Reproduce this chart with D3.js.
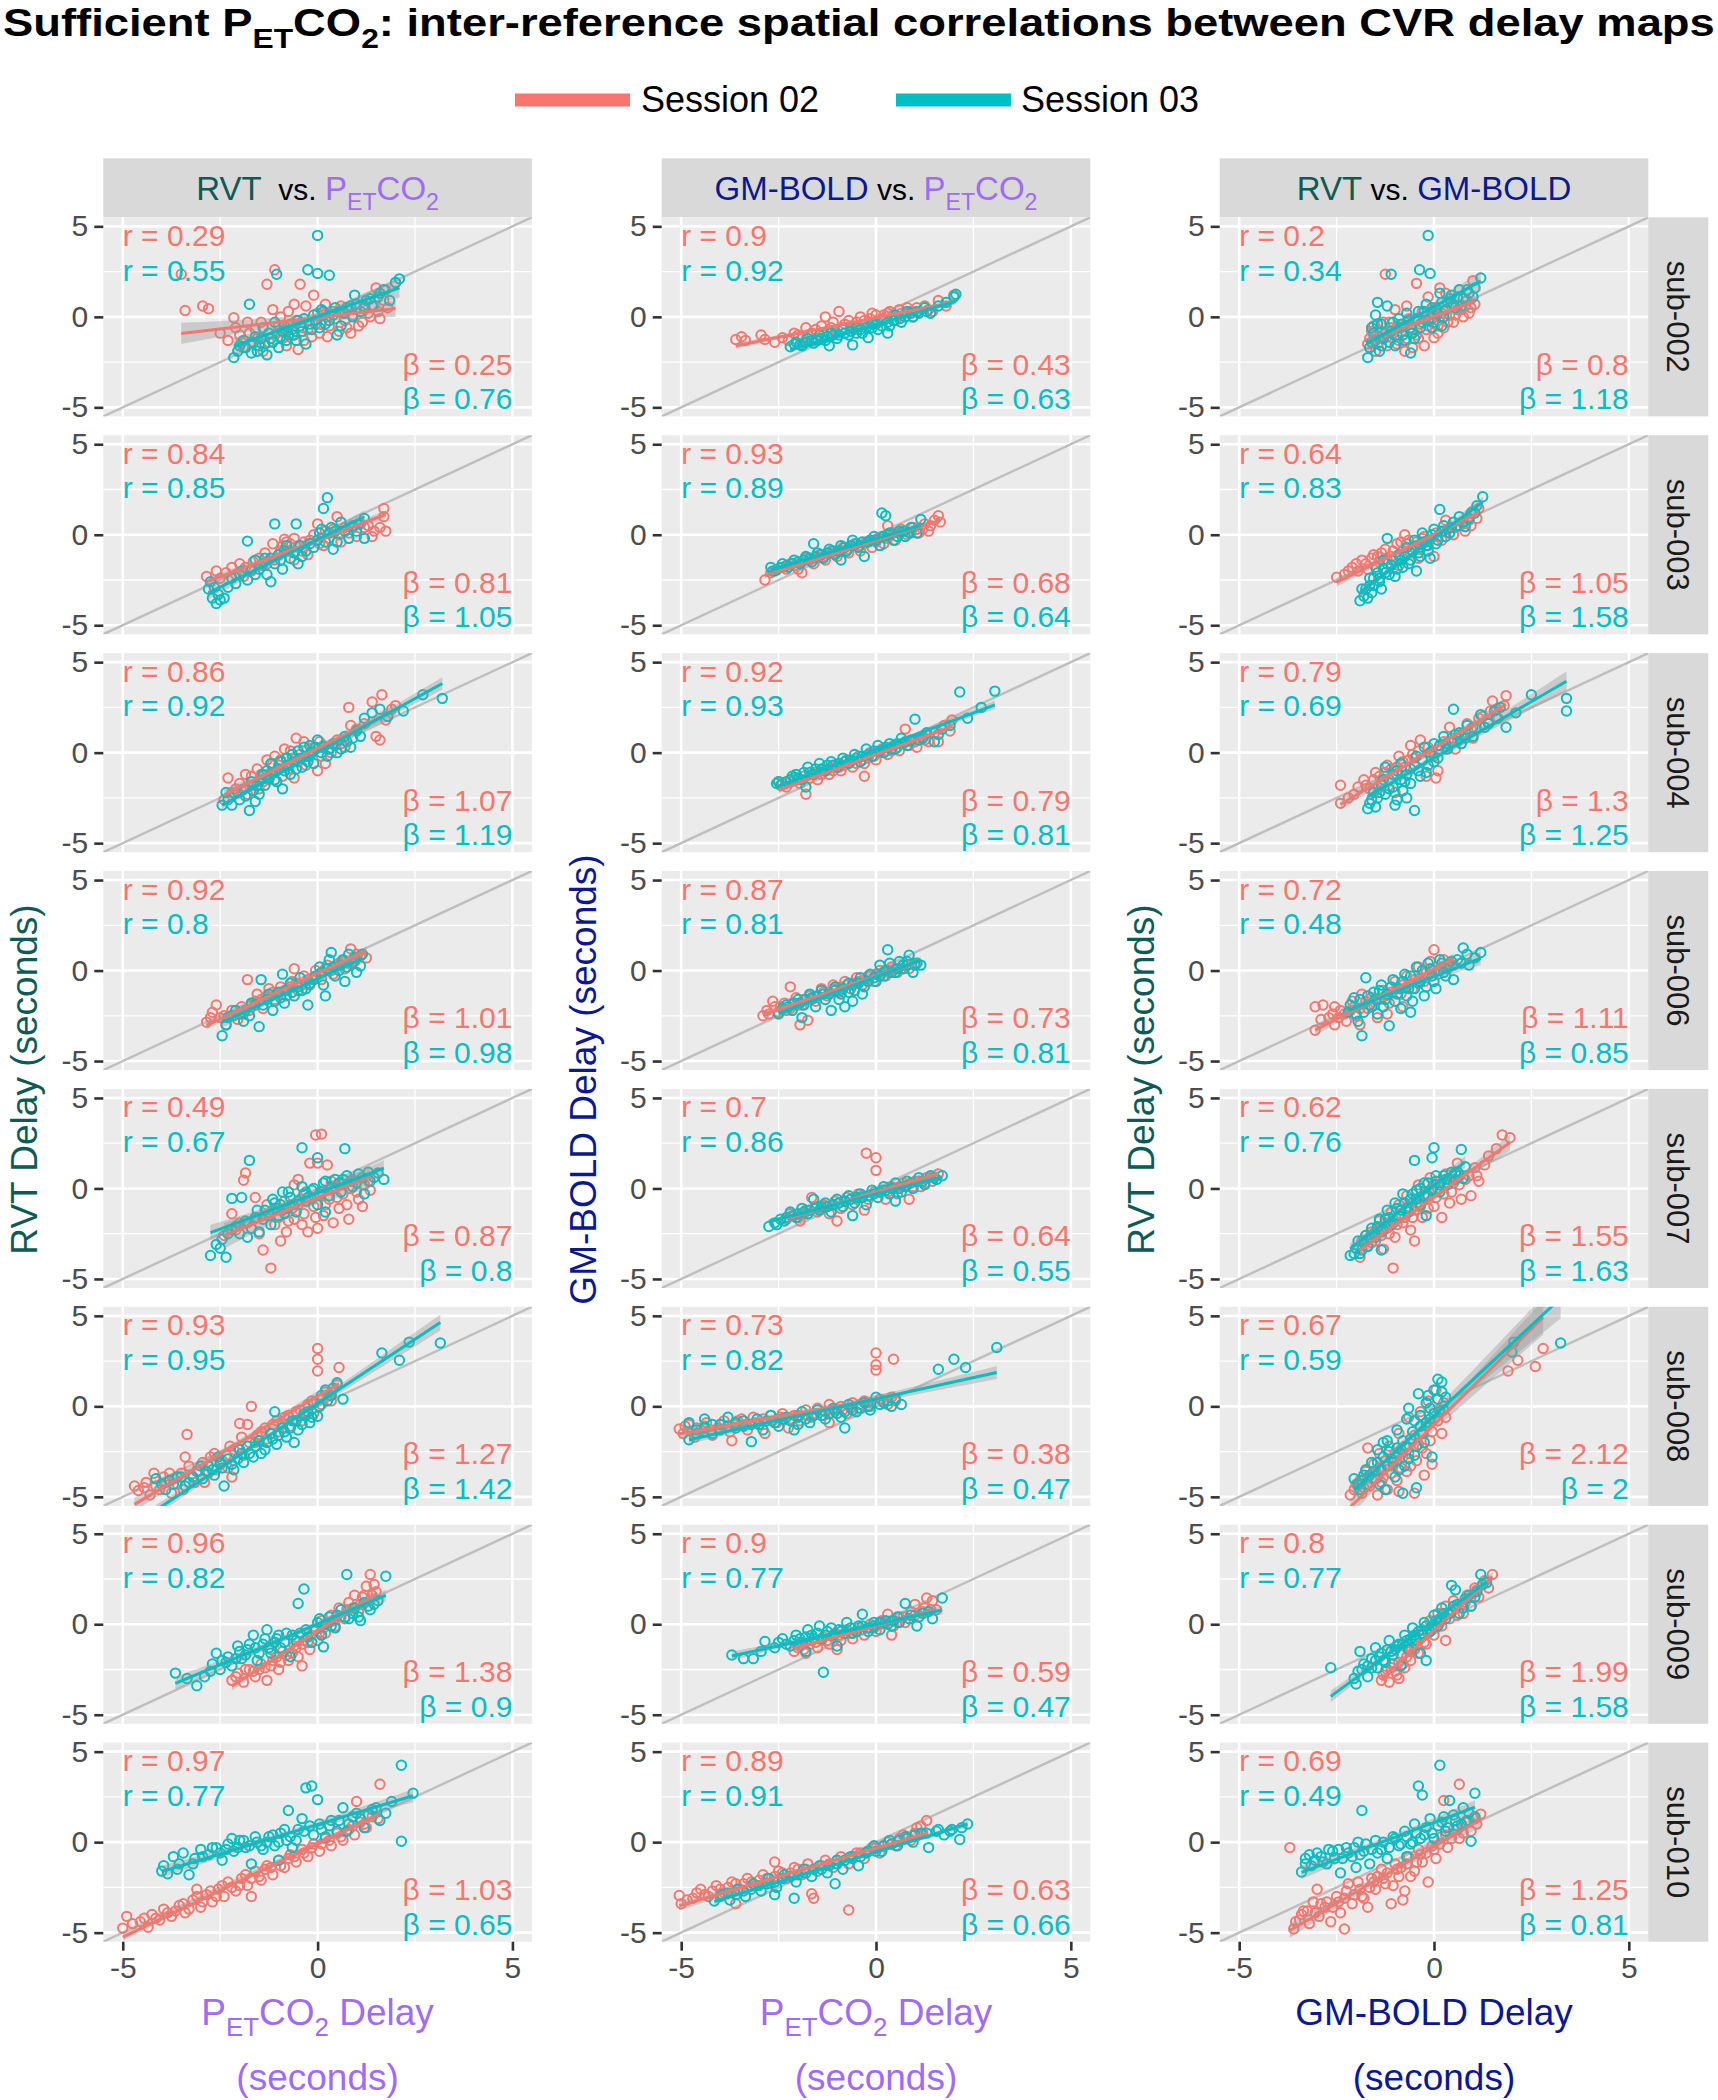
<!DOCTYPE html>
<html><head><meta charset="utf-8">
<script src="https://cdn.jsdelivr.net/npm/d3@7"></script>
<style>
body{margin:0;background:#fff}
svg text{font-family:"Liberation Sans",Arial,Helvetica,sans-serif;white-space:pre}
</style>
</head><body>
<svg id="c" width="1718" height="2100"></svg>
<script>
// ---------------- DATA ----------------
const subjects=["sub-002","sub-003","sub-004","sub-006","sub-007","sub-008","sub-009","sub-010"];
const sessions=["Session 02","Session 03"];
const sessionColors=["#F8766D","#00BFC4"];
const tickValues=[-5,0,5];
const minorValues=[-2.5,2.5];
const axisDomain=[-5.5,5.5];

const r_RVTvsPET_S02=[0.29,0.84,0.86,0.92,0.49,0.93,0.96,0.97];
const r_RVTvsPET_S03=[0.55,0.85,0.92,0.8,0.67,0.95,0.82,0.77];
const b_RVTvsPET_S02=[0.25,0.81,1.07,1.01,0.87,1.27,1.38,1.03];
const b_RVTvsPET_S03=[0.76,1.05,1.19,0.98,0.8,1.42,0.9,0.65];
const r_GMvsPET_S02=[0.9,0.93,0.92,0.87,0.7,0.73,0.9,0.89];
const r_GMvsPET_S03=[0.92,0.89,0.93,0.81,0.86,0.82,0.77,0.91];
const b_GMvsPET_S02=[0.43,0.68,0.79,0.73,0.64,0.38,0.59,0.63];
const b_GMvsPET_S03=[0.63,0.64,0.81,0.81,0.55,0.47,0.47,0.66];
const r_RVTvsGM_S02=[0.2,0.64,0.79,0.72,0.62,0.67,0.8,0.69];
const r_RVTvsGM_S03=[0.34,0.83,0.69,0.48,0.76,0.59,0.77,0.49];
const b_RVTvsGM_S02=[0.8,1.05,1.3,1.11,1.55,2.12,1.99,1.25];
const b_RVTvsGM_S03=[1.18,1.58,1.25,0.85,1.63,2,1.58,0.81];

// points [x, y] per subject: spread points
const pts_RVTvsPET_S02=[
[[-3.5,2.35],[-3.4,0.35],[-2.95,0.6],[-2.8,0.45],[-2.15,-0.05],[-2.3,-1.3],[-2.0,-1.0],[-1.9,-1.7],[-1.7,-1.4],[-1.6,-0.7],[-1.4,-1.9],[-1.3,1.8],[-1.1,2.6],[-1.15,0.4],[-1.0,-0.5],[-0.9,-1.2],[-0.75,0.3],[-0.6,0.7],[-0.5,-1.8],[-0.45,1.8],[-0.4,-0.6],[-0.3,0.6],[-0.15,-1.1],[-0.1,1.2],[0.0,0.2],[0.1,-0.4],[0.25,-1.1],[0.4,0.3],[0.55,-0.8],[0.7,-0.2],[0.85,-0.9],[1.0,0.5],[1.15,-0.3],[1.3,0.2],[1.45,0.6],[1.5,1.6],[1.6,-0.1],[1.75,1.5],[1.8,0.5],[2.0,1.9],[-2.5,-0.9],[-1.8,-0.3],[-0.8,-1.6],[0.2,0.7],[0.6,0.6]],
[[-2.85,-2.3],[-2.5,-2.4],[-2.2,-1.8],[-2.0,-1.6],[-1.9,-2.3],[-1.5,-1.3],[-1.3,-1.6],[-1.0,-1.1],[-0.9,-0.6],[-0.85,-0.25],[-0.7,-0.5],[-0.6,-1.4],[-0.4,-0.9],[-0.2,-0.3],[0.0,0.6],[0.3,-0.2],[0.5,1.0],[0.6,-0.4],[0.8,0.1],[1.0,-0.1],[1.2,0.4],[1.4,-0.1],[1.6,0.4],[1.75,0.2],[1.7,1.0],[1.7,1.45],[1.45,0.2],[-1.7,-2.0],[-1.15,-0.5],[0.15,-0.6]],
[[-2.4,-2.6],[-2.3,-1.4],[-2.1,-2.0],[-2.0,-1.7],[-1.8,-2.3],[-1.7,-1.3],[-1.55,-0.9],[-1.4,-1.6],[-1.3,-0.4],[-1.2,-1.1],[-1.1,-0.2],[-1.0,-0.7],[-0.9,-1.3],[-0.8,-0.3],[-0.7,0.1],[-0.55,0.8],[-0.5,-0.5],[-0.35,0.6],[-0.2,-0.2],[-0.1,0.3],[0.0,-1.0],[0.05,0.6],[0.2,-0.6],[0.3,0.2],[0.45,0.4],[0.6,0.5],[0.8,2.5],[0.85,1.5],[1.0,1.3],[1.2,1.6],[1.4,2.8],[1.5,0.9],[1.6,0.7],[1.65,3.2],[1.75,1.8],[1.9,2.4],[2.0,2.6],[-0.6,-1.4],[-1.5,-2.0]],
[[-2.85,-2.85],[-2.7,-2.3],[-2.5,-2.6],[-2.35,-3.0],[-2.2,-2.2],[-2.05,-2.7],[-1.9,-2.4],[-1.8,-0.5],[-1.7,-1.9],[-1.55,-1.3],[-1.4,-2.1],[-1.25,-1.0],[-1.1,-1.6],[-0.95,-0.9],[-0.8,-1.4],[-0.65,-0.6],[-0.5,-1.1],[-0.35,-0.3],[-0.2,-0.8],[-0.05,0.0],[0.1,-0.5],[0.25,0.3],[0.4,-0.2],[0.55,0.4],[0.7,0.1],[0.85,1.2],[0.95,0.5],[1.1,0.8],[1.25,0.7],[-0.6,0.1],[-2.6,-1.9]],
[[-2.4,-2.6],[-2.2,-1.4],[-2.0,-1.9],[-1.9,0.45],[-1.85,0.85],[-1.7,-2.2],[-1.55,-1.6],[-1.4,-3.4],[-1.3,-0.9],[-1.2,-4.4],[-1.1,-2.0],[-0.95,-2.9],[-0.9,-1.2],[-0.8,-2.4],[-0.7,-0.5],[-0.6,-1.7],[-0.5,-0.9],[-0.4,-2.0],[-0.3,-0.2],[-0.25,-2.4],[-0.2,1.4],[-0.1,-1.0],[-0.05,2.95],[0.0,1.4],[0.05,-0.4],[0.1,3.0],[0.15,-1.5],[0.25,1.3],[0.3,-0.6],[0.45,0.1],[0.55,-1.1],[0.65,-0.3],[0.8,-1.7],[0.9,0.5],[1.05,-0.6],[1.2,0.2],[1.35,-0.1],[-1.6,-0.5],[-0.6,0.2],[0.4,-1.9]],
[[-4.7,-4.4],[-4.6,-4.65],[-4.45,-4.5],[-4.3,-4.9],[-4.2,-3.7],[-4.05,-4.6],[-3.9,-4.2],[-3.75,-4.8],[-3.6,-4.3],[-3.45,-4.6],[-3.35,-1.55],[-3.4,-2.8],[-3.2,-3.9],[-3.05,-3.6],[-2.9,-4.2],[-2.75,-2.8],[-2.6,-3.5],[-2.45,-3.0],[-2.3,-3.4],[-2.15,-2.4],[-2.0,-0.95],[-1.9,-2.7],[-1.8,-1.0],[-1.7,0.0],[-1.6,-2.0],[-1.45,-1.4],[-1.3,-1.8],[-1.15,-1.0],[-1.0,-1.4],[-0.85,-0.6],[-0.7,-1.1],[-0.55,-0.3],[-0.4,-0.8],[-0.25,0.1],[-0.1,-0.4],[0.0,3.2],[0.0,2.6],[0.0,1.95],[0.05,0.4],[0.2,0.8],[0.35,0.3],[0.5,1.2],[0.55,2.15],[-3.8,-3.7],[-2.2,-3.9]],
[[-2.2,-3.1],[-2.05,-2.7],[-1.9,-3.2],[-1.75,-2.5],[-1.6,-2.9],[-1.45,-2.2],[-1.3,-3.1],[-1.15,-2.0],[-1.0,-2.5],[-0.9,-1.5],[-0.75,-2.0],[-0.6,-1.2],[-0.5,-1.8],[-0.35,-0.9],[-0.2,-1.4],[-0.1,-0.3],[0.0,-0.9],[0.1,0.2],[0.2,-0.5],[0.35,0.5],[0.45,-0.1],[0.55,0.9],[0.7,0.3],[0.8,1.2],[0.95,1.6],[1.05,0.7],[1.15,1.5],[1.25,2.1],[1.35,2.75],[1.45,2.2],[1.5,1.8],[-1.2,-1.4],[-0.4,-2.3]],
[[-5.0,-4.75],[-4.9,-4.1],[-4.55,-4.4],[-4.35,-4.7],[-4.15,-4.2],[-3.95,-3.7],[-3.75,-4.1],[-3.55,-3.5],[-3.4,-3.9],[-3.2,-3.2],[-3.0,-3.6],[-2.85,-2.9],[-2.7,-3.3],[-2.55,-2.6],[-2.4,-3.0],[-2.3,-2.2],[-2.1,-2.7],[-1.95,-2.0],[-1.8,-2.4],[-1.6,-1.6],[-1.45,-2.1],[-1.3,-1.3],[-1.15,-1.8],[-1.0,-1.0],[-0.85,-1.4],[-0.7,-0.7],[-0.55,-1.1],[-0.4,-0.4],[-0.25,-0.8],[-0.1,-0.1],[0.05,-0.5],[0.2,0.2],[0.35,-0.2],[0.5,0.5],[0.65,0.1],[0.8,0.7],[0.95,0.4],[1.0,2.25],[1.1,1.1],[1.25,0.8],[1.4,1.4],[1.6,3.2],[1.55,1.3],[-3.1,-2.6],[-1.7,-3.0]]
];
// dense core points read from the central clusters
const core_RVTvsPET_S02=[
[[-2.1,-0.6],[-1.95,-1.4],[-1.75,-0.9],[-1.55,-1.2],[-1.45,-0.3],[-1.25,-1.4],[-1.05,-0.9],[-0.95,0.0],[-0.85,-0.7],[-0.65,-1.0],[-0.55,-0.2],[-0.35,-1.3],[-0.25,-0.7],[-0.05,-0.4],[0.05,-0.9],[0.15,0.1],[0.3,-0.5],[0.45,-0.1],[0.65,0.2],[0.75,-0.6],[0.9,0.1],[1.05,-0.5],[1.2,0.6],[1.35,0.0],[1.55,0.3],[1.7,0.9]],
[[-2.6,-2.0],[-2.35,-2.1],[-2.1,-2.2],[-1.85,-1.8],[-1.65,-1.5],[-1.45,-1.7],[-1.35,-1.0],[-1.1,-1.4],[-0.95,-0.9],[-0.75,-0.9],[-0.5,-0.6],[-0.35,-0.4],[-0.25,-1.1],[-0.1,0.0],[0.05,-0.5],[0.2,0.2],[0.4,0.3],[0.55,0.0],[0.7,0.4],[0.9,0.4],[1.1,0.6],[1.3,0.5],[-0.8,-0.4],[-0.6,-0.2]],
[[-2.2,-2.2],[-1.95,-2.1],[-1.65,-1.8],[-1.45,-1.2],[-1.25,-1.5],[-1.05,-1.0],[-0.95,-0.4],[-0.75,-0.9],[-0.65,-0.3],[-0.45,-0.1],[-0.3,-0.7],[-0.15,0.1],[0.1,-0.2],[0.15,0.4],[0.35,0.0],[0.5,0.7],[0.7,0.3],[-1.85,-1.2],[-1.15,-0.6],[-0.85,0.2]],
[[-2.75,-2.6],[-2.4,-2.5],[-2.15,-2.5],[-1.95,-2.0],[-1.75,-2.2],[-1.6,-1.7],[-1.45,-1.6],[-1.3,-1.4],[-1.15,-1.2],[-1.0,-1.3],[-0.85,-1.1],[-0.7,-0.9],[-0.55,-0.7],[-0.4,-0.8],[-0.25,-0.5],[-0.1,-0.4],[0.05,-0.2],[0.2,0.1],[0.35,0.0],[0.5,0.3],[0.65,0.5],[0.8,0.4],[1.0,0.9]],
[[-2.1,-2.3],[-1.8,-1.9],[-1.5,-2.5],[-1.35,-1.5],[-1.15,-1.2],[-1.0,-1.6],[-0.85,-0.7],[-0.75,-1.8],[-0.65,-1.1],[-0.45,-0.6],[-0.35,-1.4],[-0.15,-0.6],[-0.05,-1.6],[0.1,-0.2],[0.2,-0.9],[0.35,0.4],[0.5,-0.5],[0.6,0.3],[0.75,-0.9],[0.85,0.0],[1.0,-0.2],[1.15,-1.0],[1.3,0.4],[-0.5,0.5],[0.0,-2.2]],
[[-4.4,-4.2],[-4.15,-4.4],[-3.95,-3.9],[-3.7,-4.0],[-3.5,-3.7],[-3.3,-3.3],[-3.15,-4.2],[-2.95,-3.1],[-2.8,-3.7],[-2.65,-2.6],[-2.5,-3.2],[-2.35,-2.7],[-2.25,-2.2],[-2.05,-2.3],[-1.95,-1.7],[-1.75,-2.0],[-1.55,-1.6],[-1.35,-1.2],[-1.2,-1.5],[-1.05,-0.8],[-0.9,-1.0],[-0.75,-0.5],[-0.6,-0.8],[-0.45,-0.2],[-0.3,-0.5],[-0.15,0.3],[0.1,0.1],[0.3,0.6]],
[[-2.1,-2.9],[-1.85,-2.5],[-1.65,-2.6],[-1.5,-2.5],[-1.35,-2.4],[-1.2,-2.3],[-1.05,-1.8],[-0.95,-2.1],[-0.8,-1.7],[-0.65,-1.6],[-0.55,-1.3],[-0.4,-1.1],[-0.25,-1.0],[-0.15,-0.6],[0.05,-0.5],[0.15,-0.2],[0.3,0.1],[0.4,0.2],[0.6,0.4],[0.75,0.8],[0.9,0.9],[1.1,1.1],[1.2,1.6],[1.4,1.6]],
[[-4.75,-4.5],[-4.45,-4.2],[-4.25,-4.0],[-4.05,-4.3],[-3.85,-3.9],[-3.65,-3.8],[-3.45,-3.4],[-3.3,-3.7],[-3.1,-3.0],[-2.95,-3.3],[-2.75,-2.7],[-2.6,-3.0],[-2.45,-2.4],[-2.2,-2.5],[-2.0,-2.4],[-1.85,-1.8],[-1.7,-2.0],[-1.5,-1.9],[-1.35,-1.5],[-1.2,-1.4],[-0.95,-1.3],[-0.75,-0.9],[-0.6,-0.8],[-0.35,-0.6],[-0.15,-0.3],[0.1,-0.1],[0.3,0.1],[0.6,0.3],[0.9,0.9],[1.2,1.0]]
];
const pts_RVTvsPET_S03=[
[[-2.15,-2.25],[-2.0,-1.6],[-1.9,-1.3],[-1.75,0.7],[-1.7,-2.0],[-1.6,-1.1],[-1.5,-1.6],[-1.4,-0.6],[-1.3,-2.1],[-1.2,-1.2],[-1.05,2.35],[-1.0,-1.7],[-0.9,-0.8],[-0.8,-1.3],[-0.7,-0.4],[-0.6,-1.0],[-0.5,-0.2],[-0.4,-0.8],[-0.25,2.6],[-0.2,-0.4],[-0.1,0.1],[0.0,4.5],[0.0,2.4],[0.05,-0.6],[0.15,0.3],[0.3,2.3],[0.3,-0.2],[0.45,0.5],[0.6,-0.5],[0.7,0.2],[0.85,0.6],[0.95,1.2],[1.1,0.3],[1.25,0.9],[1.4,0.6],[1.55,1.1],[1.7,1.5],[1.85,0.9],[2.0,1.9],[2.1,2.1],[-1.1,-0.3],[0.5,-1.0],[-0.3,-1.5]],
[[-2.8,-3.0],[-2.7,-3.5],[-2.6,-3.8],[-2.5,-3.6],[-2.4,-3.5],[-2.75,-2.6],[-2.3,-2.9],[-2.0,-2.2],[-1.8,-2.5],[-1.5,-1.9],[-1.8,-0.35],[-1.2,-1.3],[-1.2,-2.6],[-1.3,-2.2],[-1.0,-1.1],[-0.8,-0.6],[-0.6,-1.0],[-1.1,0.6],[-0.5,-1.6],[-0.3,-0.9],[-0.55,0.6],[0.0,-0.3],[0.1,0.3],[0.15,1.45],[0.25,2.05],[0.3,0.1],[0.5,-0.4],[0.6,0.7],[0.8,-0.2],[1.0,0.2],[1.2,0.9],[1.2,-0.2],[0.4,-0.8],[-1.6,-1.4],[-0.9,-1.9]],
[[-2.45,-2.9],[-2.3,-2.6],[-2.0,-2.6],[-1.9,-2.0],[-1.75,-3.2],[-1.7,-1.6],[-1.6,-2.7],[-1.5,-2.3],[-1.4,-1.2],[-1.35,-1.8],[-1.2,-0.6],[-1.1,-1.5],[-1.0,-0.9],[-0.9,-2.0],[-0.8,-0.3],[-0.7,-1.2],[-0.6,-0.5],[-0.5,0.1],[-0.4,-0.8],[-0.3,-0.2],[-0.2,0.4],[-0.1,-0.6],[0.0,0.7],[0.1,0.0],[0.25,-0.2],[0.4,0.5],[0.6,0.2],[0.75,0.6],[0.9,0.8],[1.0,1.2],[1.1,0.9],[1.2,1.9],[1.4,2.2],[1.6,2.4],[1.8,2.0],[2.2,2.3],[2.7,3.2],[3.2,3.0],[-1.3,-1.0]],
[[-2.45,-3.6],[-2.3,-2.6],[-2.1,-2.2],[-1.9,-2.8],[-1.7,-1.8],[-1.5,-3.1],[-1.45,-0.5],[-1.3,-1.6],[-1.15,-2.2],[-1.0,-1.2],[-0.85,-1.8],[-0.7,-0.7],[-0.6,-1.4],[-0.45,-0.4],[-0.3,-1.0],[-0.25,-1.9],[-0.1,-0.5],[0.05,0.2],[0.15,-0.8],[0.3,0.6],[0.35,1.0],[0.45,-0.3],[0.6,0.3],[0.7,-0.6],[0.8,0.9],[0.9,0.4],[1.0,-0.1],[1.1,0.25],[1.15,0.9],[-0.9,-0.2],[0.2,-1.4]],
[[-2.75,-3.7],[-2.6,-3.1],[-2.5,-3.3],[-2.35,-3.8],[-2.2,-0.55],[-2.1,-2.1],[-1.95,-0.5],[-1.8,-2.7],[-1.75,1.55],[-1.6,-1.6],[-1.5,-2.4],[-1.35,-1.2],[-1.2,-2.0],[-1.1,-0.8],[-1.0,-1.5],[-0.9,-0.2],[-0.8,-1.1],[-0.7,-0.5],[-0.55,-1.3],[-0.4,2.25],[-0.4,0.1],[-0.3,-0.7],[-0.15,-0.1],[0.0,1.7],[0.0,-0.9],[0.15,0.3],[0.3,-0.4],[0.45,0.5],[0.6,-0.2],[0.7,2.2],[0.75,0.7],[0.9,0.1],[1.05,0.8],[1.2,-0.3],[1.3,0.9],[1.45,0.6],[1.55,0.85],[1.7,0.5],[-2.3,-2.5],[0.2,-1.3]],
[[-4.15,-4.0],[-3.9,-4.6],[-3.7,-4.3],[-3.5,-3.9],[-3.3,-4.2],[-3.1,-3.6],[-2.95,-4.0],[-2.8,-3.3],[-2.65,-3.8],[-2.5,-3.1],[-2.4,-4.4],[-2.3,-2.9],[-2.15,-3.5],[-2.0,-2.4],[-1.9,-3.1],[-1.8,-2.2],[-1.65,-2.8],[-1.5,-1.9],[-1.35,-2.4],[-1.2,-1.5],[-1.05,-2.1],[-0.9,-1.2],[-0.8,-1.7],[-0.65,-0.8],[-0.5,-1.3],[-0.35,-0.4],[-0.2,-0.9],[-0.1,0.2],[0.0,-0.55],[0.1,0.6],[0.25,0.3],[0.4,1.0],[0.5,1.3],[0.65,0.4],[1.65,2.95],[2.1,2.55],[2.35,3.55],[3.15,3.5],[-1.1,-0.3],[-0.6,-2.0]],
[[-3.65,-2.7],[-3.35,-3.0],[-3.1,-3.4],[-2.9,-2.9],[-2.6,-1.6],[-2.5,-2.5],[-2.3,-1.8],[-2.2,-2.3],[-2.05,-1.2],[-1.95,-1.9],[-1.8,-1.4],[-1.65,-0.6],[-1.55,-2.0],[-1.4,-1.1],[-1.3,-0.3],[-1.2,-1.6],[-1.05,-0.8],[-0.95,-1.3],[-0.8,-0.5],[-0.7,-1.8],[-0.55,-0.9],[-0.5,1.15],[-0.35,1.95],[-0.3,-0.3],[-0.15,-1.0],[0.0,0.1],[0.1,-0.6],[0.15,-1.25],[0.3,0.4],[0.45,-0.2],[0.6,0.8],[0.75,2.75],[0.8,0.3],[0.95,0.9],[1.1,0.2],[1.2,1.2],[1.35,0.8],[1.55,1.3],[1.75,2.65],[-2.7,-2.2]],
[[-4.0,-1.6],[-3.85,-1.75],[-3.7,-0.8],[-3.55,-1.2],[-3.3,-1.8],[-3.15,-0.9],[-3.0,-0.4],[-2.8,-0.7],[-2.6,-0.3],[-2.45,-1.0],[-2.3,-0.1],[-2.15,-0.5],[-2.0,0.1],[-1.85,-0.3],[-1.7,-1.2],[-1.55,0.0],[-1.4,-0.4],[-1.25,0.3],[-1.1,-0.2],[-0.95,0.5],[-0.8,0.1],[-0.75,1.75],[-0.65,-0.3],[-0.5,0.7],[-0.4,1.3],[-0.3,3.0],[-0.15,3.1],[-0.1,0.4],[0.0,2.35],[0.05,1.0],[0.2,0.3],[0.35,1.2],[0.5,0.6],[0.65,1.9],[0.8,1.0],[1.0,1.6],[1.2,0.8],[1.4,1.8],[1.6,1.2],[1.9,2.25],[2.15,4.25],[2.15,0.05],[2.45,2.7],[-1.0,-1.0]]
];
const core_RVTvsPET_S03=[
[[-2.05,-1.9],[-1.85,-1.7],[-1.65,-1.4],[-1.55,-1.9],[-1.45,-1.2],[-1.35,-1.5],[-1.25,-0.9],[-1.15,-1.4],[-0.95,-1.1],[-0.85,-0.5],[-0.75,-1.0],[-0.65,-0.7],[-0.55,-1.3],[-0.45,-0.5],[-0.35,-0.1],[-0.15,-0.7],[-0.05,-0.2],[0.1,0.4],[0.2,-0.4],[0.4,0.1],[0.55,0.3],[0.75,0.5],[0.9,0.0],[1.0,0.7],[1.2,0.5],[1.35,1.0],[1.6,1.3]],
[[-2.65,-2.9],[-2.55,-3.3],[-2.2,-2.4],[-2.1,-2.7],[-1.95,-2.0],[-1.7,-1.9],[-1.6,-2.2],[-1.4,-1.6],[-1.35,-1.3],[-1.1,-1.6],[-0.95,-1.4],[-0.85,-0.9],[-0.7,-1.3],[-0.45,-0.6],[-0.4,-1.2],[-0.2,-0.5],[-0.1,-0.7],[0.05,0.1],[0.2,-0.4],[0.35,0.4],[0.45,0.2],[0.7,0.2],[0.9,0.5],[1.05,0.6]],
[[-2.35,-2.2],[-2.2,-2.9],[-2.05,-2.2],[-1.85,-2.4],[-1.65,-2.1],[-1.55,-1.8],[-1.45,-1.5],[-1.25,-1.4],[-1.15,-1.1],[-1.05,-1.6],[-0.95,-0.5],[-0.85,-1.0],[-0.75,-0.7],[-0.65,-0.1],[-0.55,-0.9],[-0.45,-0.3],[-0.35,0.3],[-0.25,-0.5],[-0.15,0.0],[-0.05,0.3],[0.15,0.3],[0.3,0.2],[0.5,0.0],[0.7,0.9],[0.85,0.3]],
[[-2.35,-3.0],[-2.2,-2.5],[-2.0,-2.4],[-1.85,-2.2],[-1.75,-2.5],[-1.6,-1.9],[-1.4,-1.9],[-1.25,-1.3],[-1.1,-1.7],[-0.95,-1.5],[-0.8,-1.1],[-0.65,-1.2],[-0.5,-0.9],[-0.4,-1.1],[-0.2,-0.7],[-0.05,-0.3],[0.1,-0.1],[0.25,0.1],[0.4,0.2],[0.55,0.0],[0.65,0.6],[0.75,0.2],[0.95,0.7]],
[[-2.45,-2.8],[-2.2,-2.3],[-2.0,-2.5],[-1.85,-1.8],[-1.7,-2.2],[-1.55,-1.2],[-1.4,-1.7],[-1.25,-1.5],[-1.15,-0.6],[-1.05,-1.1],[-0.95,-0.9],[-0.85,-1.4],[-0.75,-0.2],[-0.65,-0.9],[-0.5,-0.7],[-0.35,-0.3],[-0.25,-0.5],[-0.1,0.0],[0.05,-0.3],[0.2,0.4],[0.35,0.0],[0.55,0.3],[0.65,0.5],[0.85,0.4],[1.0,0.3],[1.15,0.6],[1.35,0.4]],
[[-4.0,-4.3],[-3.8,-4.1],[-3.6,-3.9],[-3.4,-4.4],[-3.2,-3.9],[-3.0,-3.3],[-2.85,-3.6],[-2.7,-3.5],[-2.55,-2.8],[-2.45,-3.4],[-2.2,-3.2],[-2.05,-2.9],[-1.95,-2.6],[-1.75,-2.6],[-1.6,-2.2],[-1.45,-2.6],[-1.3,-2.0],[-1.15,-1.8],[-1.0,-1.6],[-0.85,-1.4],[-0.7,-1.2],[-0.55,-0.8],[-0.4,-1.0],[-0.25,-0.3],[-0.15,-0.6],[0.05,0.0],[0.2,0.9],[0.35,0.6]],
[[-2.75,-2.6],[-2.45,-2.0],[-2.35,-2.1],[-2.1,-1.9],[-2.0,-1.5],[-1.85,-1.7],[-1.75,-1.1],[-1.6,-1.3],[-1.5,-1.6],[-1.35,-0.8],[-1.25,-1.3],[-1.1,-1.0],[-1.0,-0.6],[-0.85,-1.0],[-0.65,-0.6],[-0.45,-0.5],[-0.25,-0.7],[-0.05,-0.3],[0.05,0.3],[0.2,0.0],[0.35,-0.1],[0.5,0.5],[0.7,0.4],[0.9,0.6],[1.05,0.4],[1.3,1.0],[1.45,1.1]],
[[-3.95,-1.3],[-3.6,-1.5],[-3.45,-0.6],[-3.2,-1.2],[-2.95,-0.8],[-2.7,-0.3],[-2.5,-0.6],[-2.35,-0.4],[-2.2,0.2],[-2.05,-0.3],[-1.9,0.1],[-1.75,-0.2],[-1.6,0.3],[-1.45,-0.2],[-1.3,0.0],[-1.15,0.4],[-1.0,0.0],[-0.85,0.7],[-0.7,0.3],[-0.55,0.1],[-0.35,0.6],[-0.2,0.9],[0.1,0.7],[0.3,0.9],[0.55,1.2],[0.75,0.6],[0.9,1.4],[1.1,1.3],[1.3,1.5],[1.5,1.9],[1.75,1.6]]
];
const pts_GMvsPET_S02=[
[[-3.6,-1.25],[-3.45,-1.1],[-3.35,-1.3],[-2.95,-1.0],[-2.85,-1.25],[-2.4,-1.15],[-2.25,-1.3],[-2.1,-0.9],[-1.9,-1.2],[-1.8,-0.6],[-1.65,-0.9],[-1.5,-1.2],[-1.4,-0.5],[-1.25,-0.8],[-1.1,-0.3],[-0.95,0.3],[-0.85,-0.6],[-0.7,-0.2],[-0.55,-0.7],[-0.4,0.0],[-0.25,-0.4],[-0.1,0.2],[0.05,-0.3],[0.2,0.1],[0.35,0.3],[0.5,-0.2],[0.65,0.2],[0.8,0.5],[0.95,0.0],[1.1,0.3],[1.25,0.6],[1.45,0.3],[1.6,0.9],[1.8,0.6],[2.0,1.2],[-2.6,-1.4],[-1.3,0.0]],
[[-2.85,-2.5],[-2.6,-2.0],[-2.4,-1.8],[-2.2,-1.6],[-2.0,-1.9],[-1.8,-1.3],[-1.6,-1.6],[-1.45,-1.1],[-1.3,-1.4],[-1.15,-0.9],[-1.0,-1.2],[-0.85,-0.7],[-0.7,-1.0],[-0.55,-0.5],[-0.4,-0.9],[-0.25,-0.4],[-0.1,-0.7],[0.05,-0.2],[0.2,-0.5],[0.35,0.0],[0.5,-0.3],[0.65,0.3],[0.8,0.0],[0.95,0.4],[1.1,0.1],[1.25,0.6],[1.35,0.2],[1.5,0.8],[1.6,1.05],[1.65,0.7],[-1.9,-2.1],[0.3,0.5]],
[[-2.5,-1.6],[-2.3,-1.9],[-2.1,-1.4],[-1.95,-1.7],[-1.8,-2.3],[-1.65,-1.2],[-1.5,-1.5],[-1.35,-0.9],[-1.2,-1.2],[-1.05,-0.7],[-0.9,-1.0],[-0.75,-0.4],[-0.6,-0.8],[-0.45,-0.2],[-0.3,-0.6],[-0.15,0.0],[0.0,-0.4],[0.15,0.2],[0.3,-0.1],[0.45,0.4],[0.6,0.1],[0.75,1.3],[0.9,0.6],[1.05,0.3],[1.2,0.9],[1.35,0.6],[1.5,1.1],[1.6,0.6],[1.75,1.5],[1.9,1.2],[1.95,1.8],[-0.3,-1.3]],
[[-2.9,-2.5],[-2.8,-2.2],[-2.65,-1.7],[-2.5,-2.3],[-2.35,-1.8],[-2.2,-2.1],[-2.05,-1.5],[-1.95,-3.0],[-1.9,-1.9],[-1.75,-2.75],[-1.7,-1.4],[-1.55,-1.7],[-1.4,-1.0],[-1.25,-1.4],[-1.1,-0.8],[-0.95,-1.2],[-0.8,-0.6],[-0.65,-1.0],[-0.5,-0.4],[-0.35,-0.8],[-0.2,-0.3],[-0.05,-0.6],[0.1,0.0],[0.25,-0.3],[0.4,0.2],[0.55,-0.1],[0.7,0.3],[0.85,0.1],[1.0,0.4],[-2.2,-0.9]],
[[-2.3,-1.7],[-2.1,-1.5],[-1.95,-1.8],[-1.8,-1.2],[-1.65,-0.5],[-1.5,-1.3],[-1.35,-0.9],[-1.2,-1.4],[-1.05,-0.7],[-0.9,-1.1],[-0.75,-0.5],[-0.6,-0.9],[-0.45,-0.3],[-0.3,-1.2],[-0.25,1.95],[-0.15,-0.4],[0.0,1.7],[0.0,1.0],[0.1,-0.2],[0.25,-0.6],[0.4,0.1],[0.55,-0.3],[0.7,0.3],[0.85,-0.6],[1.0,0.4],[1.15,0.1],[1.3,0.6],[1.45,0.4],[1.6,0.8],[-1.0,-1.8]],
[[-5.05,-1.25],[-4.95,-1.5],[-4.8,-1.0],[-4.65,-1.7],[-4.5,-1.3],[-4.35,-0.9],[-4.2,-1.6],[-4.05,-1.2],[-3.9,-0.8],[-3.75,-1.4],[-3.6,-1.0],[-3.45,-0.7],[-3.3,-1.3],[-3.15,-0.6],[-3.0,-1.0],[-2.85,-1.5],[-2.7,-0.5],[-2.55,-0.9],[-2.4,-0.4],[-2.25,-1.2],[-2.1,-0.5],[-1.95,-0.8],[-1.8,-0.2],[-1.65,-0.6],[-1.5,-0.1],[-1.35,-0.5],[-1.2,0.1],[-1.05,-0.3],[-0.9,0.0],[-0.75,-0.4],[-0.6,0.2],[-0.45,-0.1],[-0.3,0.3],[-0.15,0.0],[0.0,2.95],[0.0,2.3],[0.0,2.0],[0.1,0.4],[0.3,0.1],[0.45,2.6],[0.5,0.3],[-3.7,-1.9],[-1.2,-0.9]],
[[-2.1,-1.5],[-1.95,-1.2],[-1.8,-1.6],[-1.65,-0.9],[-1.5,-1.3],[-1.35,-0.7],[-1.2,-1.1],[-1.05,-0.5],[-0.9,-0.9],[-0.75,-0.3],[-0.6,-0.8],[-0.45,-0.2],[-0.3,-0.6],[-0.15,0.0],[0.0,-0.4],[0.15,0.2],[0.3,0.55],[0.45,-0.1],[0.6,0.4],[0.75,0.1],[0.9,0.7],[1.0,1.1],[1.1,0.4],[1.25,0.9],[1.3,1.45],[1.45,1.3],[1.55,0.8],[-1.0,-1.4],[0.4,-0.6]],
[[-5.05,-2.95],[-5.0,-3.4],[-4.7,-3.1],[-4.5,-2.6],[-4.3,-3.0],[-4.1,-2.4],[-3.9,-2.8],[-3.7,-2.2],[-3.5,-2.6],[-3.3,-2.0],[-3.1,-2.4],[-2.9,-1.8],[-2.7,-2.3],[-2.5,-1.6],[-2.3,-2.0],[-2.1,-1.4],[-1.9,-1.8],[-1.75,-1.2],[-1.65,-2.85],[-1.6,-3.1],[-1.5,-1.6],[-1.3,-1.0],[-1.1,-1.4],[-0.9,-0.8],[-0.7,-3.75],[-0.7,-1.2],[-0.5,-0.6],[-0.3,-0.9],[-0.1,-0.3],[0.1,-0.6],[0.3,0.0],[0.5,-0.2],[0.7,0.4],[0.9,0.1],[1.05,0.8],[1.2,0.5],[1.3,1.2],[-3.6,-3.4],[-2.6,-1.1]]
];
const core_GMvsPET_S02=[
[[-2.0,-1.0],[-1.75,-1.0],[-1.55,-0.7],[-1.35,-1.0],[-1.15,-0.6],[-1.0,-0.9],[-0.8,-0.4],[-0.65,-0.5],[-0.5,-0.3],[-0.3,-0.2],[-0.15,-0.1],[0.0,0.1],[0.15,-0.1],[0.3,0.2],[0.45,0.1],[0.6,0.4],[0.75,0.2],[0.9,0.3],[1.05,0.5],[1.35,0.4]],
[[-2.7,-2.1],[-2.3,-1.9],[-2.1,-1.7],[-1.9,-1.5],[-1.7,-1.4],[-1.5,-1.3],[-1.35,-1.2],[-1.2,-1.0],[-1.05,-1.0],[-0.9,-0.9],[-0.75,-0.8],[-0.6,-0.6],[-0.45,-0.6],[-0.3,-0.5],[-0.15,-0.3],[0.0,-0.4],[0.15,-0.1],[0.3,-0.2],[0.45,0.1],[0.6,0.1],[0.75,0.2],[0.9,0.1],[1.05,0.3],[1.2,0.3],[1.4,0.5]],
[[-2.4,-1.7],[-2.2,-1.6],[-2.0,-1.5],[-1.85,-1.3],[-1.7,-1.4],[-1.55,-1.1],[-1.4,-1.2],[-1.25,-0.9],[-1.1,-1.0],[-0.95,-0.8],[-0.8,-0.7],[-0.65,-0.5],[-0.5,-0.6],[-0.35,-0.4],[-0.2,-0.3],[-0.05,-0.2],[0.1,0.0],[0.25,0.1],[0.4,0.1],[0.55,0.3],[0.7,0.5],[0.85,0.4],[1.0,0.6],[1.25,0.7]],
[[-2.75,-2.4],[-2.6,-2.0],[-2.45,-2.0],[-2.3,-2.2],[-2.15,-1.8],[-2.0,-1.9],[-1.85,-1.6],[-1.65,-1.6],[-1.5,-1.4],[-1.35,-1.2],[-1.2,-1.2],[-1.05,-1.0],[-0.9,-0.9],[-0.75,-0.8],[-0.6,-0.7],[-0.45,-0.6],[-0.3,-0.5],[-0.15,-0.3],[0.0,-0.2],[0.2,-0.1],[0.35,0.0],[0.5,0.1],[0.65,0.1],[0.8,0.3]],
[[-2.2,-1.4],[-2.0,-1.6],[-1.85,-1.4],[-1.7,-1.2],[-1.55,-1.0],[-1.4,-1.1],[-1.25,-1.0],[-1.1,-0.9],[-0.95,-0.8],[-0.8,-0.7],[-0.65,-0.6],[-0.5,-0.6],[-0.35,-0.4],[-0.2,-0.6],[-0.05,-0.2],[0.15,-0.1],[0.3,-0.2],[0.45,0.0],[0.6,0.1],[0.8,0.2],[0.95,0.1],[1.1,0.4],[1.25,0.3],[1.4,0.6]],
[[-4.9,-1.1],[-4.6,-1.2],[-4.4,-1.1],[-4.25,-1.3],[-4.0,-1.0],[-3.8,-1.1],[-3.55,-0.8],[-3.35,-1.0],[-3.1,-0.9],[-2.9,-0.7],[-2.65,-0.8],[-2.45,-0.6],[-2.2,-0.7],[-2.0,-0.5],[-1.75,-0.5],[-1.55,-0.4],[-1.3,-0.3],[-1.1,-0.2],[-0.85,-0.2],[-0.65,-0.1],[-0.4,0.1],[-0.2,0.2],[0.2,0.3],[0.4,0.5]],
[[-2.0,-1.3],[-1.85,-1.4],[-1.7,-1.1],[-1.55,-1.0],[-1.4,-0.9],[-1.25,-0.9],[-1.1,-0.7],[-0.95,-0.6],[-0.8,-0.5],[-0.65,-0.5],[-0.5,-0.4],[-0.35,-0.3],[-0.2,-0.2],[-0.05,-0.2],[0.1,0.0],[0.25,0.1],[0.4,0.2],[0.55,0.1],[0.7,0.4],[0.85,0.3],[1.0,0.5],[1.2,0.7],[1.4,0.8]],
[[-4.85,-3.2],[-4.6,-2.8],[-4.4,-2.9],[-4.2,-2.7],[-4.0,-2.6],[-3.8,-2.5],[-3.6,-2.3],[-3.4,-2.3],[-3.2,-2.2],[-3.0,-2.1],[-2.8,-2.0],[-2.6,-1.9],[-2.4,-1.7],[-2.2,-1.7],[-2.0,-1.5],[-1.8,-1.5],[-1.4,-1.3],[-1.2,-1.2],[-1.0,-1.0],[-0.8,-1.0],[-0.6,-0.8],[-0.4,-0.6],[-0.2,-0.5],[0.0,-0.3],[0.2,-0.2],[0.4,-0.1],[0.6,0.2],[0.8,0.3],[1.0,0.5],[1.15,0.9]]
];
const pts_GMvsPET_S03=[
[[-2.2,-1.65],[-2.05,-1.4],[-1.9,-1.6],[-1.75,-1.2],[-1.6,-1.45],[-1.45,-1.0],[-1.3,-1.3],[-1.15,-0.9],[-1.0,-1.2],[-0.85,-0.7],[-0.7,-1.0],[-0.6,-1.55],[-0.5,-0.6],[-0.35,-0.9],[-0.2,-1.15],[-0.1,-0.4],[0.05,-0.7],[0.2,-0.2],[0.35,-0.5],[0.5,0.1],[0.65,-0.3],[0.8,0.3],[0.95,0.0],[1.1,0.2],[1.25,0.5],[1.4,0.2],[1.6,0.6],[1.8,0.8],[2.0,1.1],[2.05,1.25],[-1.2,-1.6],[0.3,-0.9]],
[[-2.7,-1.8],[-2.55,-1.95],[-2.4,-1.6],[-2.25,-1.8],[-2.1,-1.4],[-1.95,-1.6],[-1.8,-1.2],[-1.65,-1.5],[-1.5,-1.0],[-1.35,-1.3],[-1.2,-0.8],[-1.05,-1.1],[-0.9,-0.6],[-0.75,-0.9],[-0.6,-0.3],[-0.45,-0.7],[-0.3,-1.2],[-0.2,-0.4],[-0.05,-0.1],[0.1,-0.6],[0.15,1.2],[0.25,1.05],[0.3,0.0],[0.45,-0.3],[0.6,0.2],[0.75,-0.1],[0.9,0.4],[1.05,0.1],[1.15,0.85],[-1.6,-0.5],[-0.9,-1.4]],
[[-2.55,-1.7],[-2.45,-1.8],[-2.2,-1.5],[-2.05,-1.2],[-1.9,-1.5],[-1.75,-0.8],[-1.6,-1.2],[-1.45,-0.6],[-1.3,-1.0],[-1.15,-0.5],[-1.0,-0.8],[-0.85,-0.3],[-0.7,-0.6],[-0.55,-0.1],[-0.4,-0.5],[-0.25,0.2],[-0.1,-0.2],[0.05,0.4],[0.2,0.0],[0.35,0.5],[0.5,0.2],[0.65,0.8],[0.8,0.4],[1.0,1.85],[1.1,0.7],[1.3,1.1],[1.5,0.6],[1.7,1.3],[1.9,1.5],[2.15,3.35],[2.35,1.9],[2.7,2.5],[3.05,3.4],[-1.8,-1.9]],
[[-2.5,-2.4],[-2.3,-1.9],[-2.15,-2.2],[-2.0,-1.6],[-1.85,-1.9],[-1.7,-1.3],[-1.55,-2.0],[-1.4,-1.1],[-1.3,-1.6],[-1.15,-2.2],[-1.05,-0.9],[-0.9,-1.3],[-0.8,-2.0],[-0.7,-0.7],[-0.55,-1.1],[-0.4,-0.4],[-0.3,-0.9],[-0.15,-0.2],[0.0,-0.6],[0.1,0.3],[0.2,-0.3],[0.3,1.15],[0.35,0.4],[0.5,-0.1],[0.6,0.5],[0.7,0.1],[0.85,0.85],[0.95,-0.1],[1.05,0.4],[1.15,0.3],[-0.6,-1.7],[-1.9,-2.6]],
[[-2.75,-2.1],[-2.55,-2.0],[-2.35,-1.8],[-2.2,-1.3],[-2.05,-1.6],[-1.9,-1.1],[-1.75,-1.4],[-1.6,-0.6],[-1.45,-1.2],[-1.3,-0.8],[-1.15,-1.3],[-1.0,-0.6],[-0.85,-1.0],[-0.7,-0.4],[-0.55,-0.8],[-0.4,-0.3],[-0.25,-0.9],[-0.1,-0.1],[0.05,-0.5],[0.2,0.1],[0.35,-0.3],[0.5,0.3],[0.65,-0.2],[0.8,0.4],[0.95,0.0],[1.1,0.6],[1.25,0.2],[1.4,0.7],[1.55,0.5],[1.7,0.7],[-0.6,-1.5],[0.5,-0.7]],
[[-4.8,-1.85],[-4.8,-0.9],[-4.6,-1.3],[-4.4,-0.7],[-4.2,-1.5],[-4.0,-1.0],[-3.8,-0.6],[-3.6,-1.2],[-3.4,-0.8],[-3.2,-1.95],[-3.05,-0.7],[-2.9,-1.3],[-2.7,-0.5],[-2.5,-1.1],[-2.3,-0.6],[-2.1,-1.3],[-1.9,-0.3],[-1.7,-0.9],[-1.5,-0.2],[-1.3,-0.7],[-1.1,-0.1],[-0.9,-0.6],[-0.7,0.1],[-0.5,-0.3],[-0.3,0.2],[-0.15,-0.2],[0.0,0.5],[0.2,0.2],[0.4,0.0],[0.65,0.1],[1.6,2.05],[2.0,2.6],[2.3,2.15],[3.1,3.25],[-2.0,-1.0],[-0.8,-1.2]],
[[-3.7,-1.7],[-3.4,-1.9],[-3.15,-1.9],[-2.95,-1.5],[-2.85,-0.95],[-2.6,-1.3],[-2.4,-0.8],[-2.2,-1.2],[-2.05,-0.6],[-1.9,-1.0],[-1.75,-0.3],[-1.6,-0.8],[-1.45,-0.1],[-1.35,-2.65],[-1.3,-0.6],[-1.15,-0.2],[-1.0,-1.2],[-0.9,-0.4],[-0.75,0.1],[-0.6,-0.5],[-0.45,-0.1],[-0.35,0.55],[-0.2,-0.4],[-0.05,0.1],[0.1,-0.3],[0.25,0.2],[0.4,-0.1],[0.55,0.4],[0.75,1.15],[0.85,0.3],[1.05,-0.1],[1.2,0.6],[1.45,0.3],[1.7,1.45],[-1.8,-1.5]],
[[-4.15,-3.25],[-3.95,-2.9],[-3.75,-3.2],[-3.55,-2.6],[-3.35,-3.0],[-3.15,-2.3],[-2.95,-2.7],[-2.75,-2.0],[-2.55,-2.5],[-2.35,-1.8],[-2.1,-3.1],[-2.05,-2.2],[-1.85,-1.5],[-1.65,-1.9],[-1.45,-1.3],[-1.25,-1.7],[-1.05,-2.3],[-1.0,-1.0],[-0.85,-1.5],[-0.65,-0.8],[-0.45,-1.3],[-0.25,-0.6],[-0.05,-0.2],[0.15,-0.5],[0.35,0.1],[0.55,-0.2],[0.75,0.3],[0.95,0.0],[1.15,0.5],[1.35,-0.3],[1.55,0.6],[1.75,0.4],[1.95,0.7],[2.15,0.15],[2.35,1.0],[-2.6,-2.9]]
];
const core_GMvsPET_S03=[
[[-2.1,-1.5],[-1.95,-1.55],[-1.8,-1.4],[-1.65,-1.3],[-1.5,-1.3],[-1.4,-1.2],[-1.25,-1.1],[-1.1,-1.0],[-0.95,-1.0],[-0.8,-0.9],[-0.65,-0.8],[-0.5,-0.9],[-0.4,-0.7],[-0.25,-0.6],[-0.1,-0.6],[0.0,-0.4],[0.15,-0.5],[0.3,-0.3],[0.45,-0.2],[0.6,-0.1],[0.75,0.0],[0.9,0.2],[1.05,0.3],[1.3,0.3]],
[[-2.65,-2.0],[-2.45,-1.8],[-2.3,-1.7],[-2.15,-1.6],[-2.0,-1.5],[-1.85,-1.4],[-1.7,-1.3],[-1.55,-1.2],[-1.4,-1.1],[-1.25,-1.0],[-1.1,-0.9],[-0.95,-0.9],[-0.8,-0.7],[-0.65,-0.6],[-0.5,-0.5],[-0.35,-0.4],[-0.15,-0.3],[0.0,-0.3],[0.2,-0.1],[0.35,0.1],[0.55,-0.1],[0.7,0.2],[0.85,0.1]],
[[-2.5,-1.6],[-2.3,-1.6],[-2.15,-1.3],[-2.0,-1.4],[-1.85,-1.1],[-1.7,-1.1],[-1.55,-0.9],[-1.4,-0.9],[-1.25,-0.7],[-1.1,-0.7],[-0.95,-0.6],[-0.8,-0.5],[-0.65,-0.4],[-0.5,-0.3],[-0.35,-0.2],[-0.2,-0.1],[-0.05,0.1],[0.1,0.1],[0.25,0.3],[0.4,0.2],[0.55,0.5],[0.75,0.6],[0.9,0.7],[1.2,0.8],[1.6,1.0]],
[[-2.4,-2.1],[-2.25,-2.0],[-2.1,-1.8],[-1.95,-1.8],[-1.8,-1.6],[-1.65,-1.5],[-1.5,-1.4],[-1.35,-1.3],[-1.2,-1.3],[-1.05,-1.1],[-0.95,-1.6],[-0.85,-1.0],[-0.7,-1.2],[-0.6,-0.8],[-0.45,-0.7],[-0.35,-1.3],[-0.2,-0.6],[-0.05,-0.4],[0.1,-0.3],[0.25,0.0],[0.4,-0.1],[0.55,0.1],[0.7,0.3],[0.8,0.5],[1.0,0.3]],
[[-2.6,-1.9],[-2.45,-1.7],[-2.3,-1.6],[-2.15,-1.5],[-2.0,-1.4],[-1.85,-1.3],[-1.7,-1.2],[-1.55,-1.1],[-1.4,-1.0],[-1.25,-1.0],[-1.1,-0.9],[-0.95,-0.8],[-0.8,-0.7],[-0.65,-0.6],[-0.5,-0.5],[-0.35,-0.5],[-0.2,-0.4],[-0.05,-0.3],[0.1,-0.2],[0.25,-0.1],[0.4,0.0],[0.6,0.0],[0.75,0.1],[0.9,0.3],[1.2,0.4],[1.5,0.6]],
[[-4.6,-1.5],[-4.4,-1.2],[-4.2,-1.0],[-4.0,-1.3],[-3.8,-1.1],[-3.6,-0.9],[-3.4,-1.1],[-3.2,-1.0],[-3.0,-1.0],[-2.8,-0.8],[-2.6,-0.9],[-2.4,-0.7],[-2.2,-0.8],[-2.0,-0.6],[-1.8,-0.7],[-1.6,-0.5],[-1.4,-0.5],[-1.2,-0.4],[-1.0,-0.4],[-0.8,-0.3],[-0.6,-0.2],[-0.4,-0.1],[-0.2,0.0],[0.1,0.1],[0.3,0.3],[0.5,0.4]],
[[-2.5,-1.0],[-2.3,-1.1],[-2.1,-0.9],[-1.95,-0.8],[-1.8,-0.7],[-1.65,-0.6],[-1.5,-0.5],[-1.4,-0.8],[-1.25,-0.4],[-1.1,-0.6],[-0.95,-0.3],[-0.8,-0.5],[-0.65,-0.2],[-0.5,-0.4],[-0.35,-0.1],[-0.2,-0.2],[-0.05,-0.1],[0.1,0.1],[0.3,0.0],[0.45,0.2],[0.6,0.1],[0.9,0.5],[1.1,0.4],[1.35,0.7]],
[[-4.0,-3.0],[-3.8,-2.8],[-3.6,-2.9],[-3.4,-2.7],[-3.2,-2.6],[-3.0,-2.4],[-2.8,-2.3],[-2.6,-2.2],[-2.4,-2.0],[-2.2,-1.9],[-2.0,-1.8],[-1.8,-1.7],[-1.6,-1.5],[-1.4,-1.5],[-1.2,-1.3],[-1.0,-1.2],[-0.8,-1.0],[-0.6,-0.9],[-0.4,-0.8],[-0.2,-0.5],[0.0,-0.5],[0.2,-0.2],[0.4,-0.1],[0.6,0.1],[0.8,0.2],[1.0,0.4],[1.3,0.5],[1.6,0.7],[1.9,0.6],[2.2,0.8]]
];
const pts_RVTvsGM_S02=[
[[-1.7,-1.5],[-1.6,-0.8],[-1.5,-1.9],[-1.4,-1.1],[-1.3,-0.3],[-1.25,2.35],[-1.2,-1.6],[-1.1,-0.6],[-1.0,0.4],[-0.9,-1.3],[-0.8,-0.4],[-0.75,-1.9],[-0.7,0.6],[-0.6,-0.9],[-0.5,-0.2],[-0.45,1.85],[-0.4,-1.2],[-0.3,0.3],[-0.2,-0.7],[-0.15,1.1],[-0.1,-0.1],[0.0,-1.15],[0.05,0.5],[0.1,-0.5],[0.2,0.2],[0.3,1.3],[0.35,-0.3],[0.45,0.6],[0.55,0.1],[0.65,1.5],[0.7,0.4],[0.85,0.9],[0.9,0.2],[1.0,2.0],[1.05,0.7],[-0.55,-1.7],[0.15,1.6]],
[[-2.5,-2.35],[-2.2,-2.0],[-2.0,-1.6],[-1.85,-1.4],[-1.7,-1.9],[-1.55,-1.1],[-1.4,-1.5],[-1.25,-0.8],[-1.1,-1.2],[-0.95,-0.5],[-0.8,-0.9],[-0.75,0.0],[-0.65,-0.3],[-0.5,-0.7],[-0.4,-1.3],[-0.3,-0.2],[-0.15,-0.6],[0.0,-1.2],[0.05,0.1],[0.2,-0.3],[0.35,0.3],[0.5,0.0],[0.65,0.5],[0.8,0.2],[0.9,0.8],[1.0,1.3],[1.1,0.9],[1.15,1.45],[-0.9,-1.7],[0.3,0.8]],
[[-2.4,-2.8],[-2.4,-1.8],[-2.05,-2.3],[-1.8,-1.5],[-1.65,-2.0],[-1.5,-1.1],[-1.35,-1.6],[-1.2,-0.7],[-1.05,-1.2],[-0.9,-0.2],[-0.75,-0.8],[-0.6,0.4],[-0.5,-0.3],[-0.35,0.7],[-0.2,-1.3],[-0.05,0.1],[0.1,-1.0],[0.25,0.6],[0.4,1.4],[0.55,0.2],[0.7,1.0],[0.85,1.6],[1.0,0.8],[1.15,1.9],[1.3,1.4],[1.45,2.3],[1.5,2.85],[1.65,1.9],[1.8,2.6],[1.85,3.15],[0.05,-1.4],[-1.0,-2.2]],
[[-3.05,-3.3],[-3.05,-2.0],[-2.85,-1.9],[-2.7,-2.6],[-2.55,-3.0],[-2.4,-2.2],[-2.25,-2.8],[-2.1,-1.7],[-2.0,-2.5],[-1.85,-1.3],[-1.7,-2.1],[-1.6,-1.5],[-1.45,-2.6],[-1.3,-1.1],[-1.15,-1.8],[-1.0,-0.6],[-0.85,-1.3],[-0.7,-0.3],[-0.55,-1.0],[-0.4,0.2],[-0.25,-0.6],[-0.1,0.5],[0.0,1.15],[0.1,-0.2],[0.25,0.6],[0.35,0.1],[0.5,0.3],[-1.9,-3.0],[-0.8,-2.0]],
[[-1.9,-3.8],[-1.85,-2.9],[-1.7,-3.2],[-1.6,-2.4],[-1.5,-2.9],[-1.4,-1.8],[-1.3,-3.35],[-1.2,-2.2],[-1.1,-1.3],[-1.05,-4.4],[-1.0,-2.7],[-0.9,-0.9],[-0.8,-1.9],[-0.7,-0.4],[-0.6,-2.3],[-0.5,-1.2],[-0.4,0.2],[-0.3,-1.6],[-0.2,-0.5],[-0.1,0.6],[0.0,-1.0],[0.1,-0.1],[0.2,-1.6],[0.3,0.8],[0.4,-0.8],[0.5,0.3],[0.6,1.4],[0.7,-0.6],[0.8,0.5],[0.95,-0.4],[1.05,1.15],[1.15,0.4],[1.3,1.3],[1.75,2.95],[1.95,2.8],[-0.5,-2.9]],
[[-2.15,-4.9],[-2.0,-4.3],[-1.85,-4.8],[-1.75,-3.6],[-1.65,-4.4],[-1.55,-3.2],[-1.45,-4.9],[-1.4,-2.6],[-1.3,-3.9],[-1.2,-4.6],[-1.15,-2.2],[-1.05,-3.3],[-0.95,-4.1],[-0.9,-1.5],[-0.8,-2.8],[-0.7,-3.6],[-0.65,-0.6],[-0.55,-1.9],[-0.5,-4.8],[-0.45,-3.0],[-0.35,-0.3],[-0.3,-2.3],[-0.2,-1.1],[-0.15,0.3],[-0.1,-1.9],[-0.05,-3.2],[0.05,0.9],[0.1,-0.8],[0.2,-1.5],[0.25,0.2],[1.9,1.95],[2.15,2.55],[2.6,2.2],[2.8,3.2],[-1.7,-2.3],[-0.9,-4.7]],
[[-1.35,-3.1],[-1.25,-2.6],[-1.15,-3.2],[-1.05,-2.2],[-0.95,-2.8],[-0.85,-1.7],[-0.75,-2.4],[-0.65,-1.2],[-0.6,-2.0],[-0.5,-0.8],[-0.4,-1.6],[-0.3,-0.3],[-0.2,-1.1],[-0.1,0.2],[0.0,-0.6],[0.1,0.6],[0.2,-0.1],[0.3,1.0],[0.4,0.3],[0.5,1.3],[0.6,0.5],[0.75,0.6],[0.85,1.6],[0.95,1.0],[1.05,2.0],[1.15,1.5],[1.3,2.4],[1.4,2.0],[1.5,2.75],[-0.9,-3.0],[0.3,-0.9]],
[[-3.7,-0.3],[-3.6,-4.8],[-3.45,-4.3],[-3.35,-3.8],[-3.2,-4.5],[-3.1,-3.3],[-3.0,-2.6],[-2.95,-4.1],[-2.8,-3.6],[-2.65,-4.4],[-2.5,-3.0],[-2.4,-3.9],[-2.25,-2.7],[-2.1,-3.4],[-1.95,-2.2],[-1.85,-3.0],[-1.7,-3.6],[-1.6,-2.0],[-1.5,-2.6],[-1.35,-1.5],[-1.25,-2.3],[-1.1,-3.4],[-1.0,-1.2],[-0.9,-1.9],[-0.75,-2.7],[-0.65,-0.8],[-0.5,-1.6],[-0.4,-0.4],[-0.3,-1.1],[-0.15,-2.2],[-0.05,-0.2],[0.05,-0.9],[0.2,0.3],[0.25,2.3],[0.35,-0.3],[0.5,0.7],[0.65,3.2],[0.65,0.2],[0.8,1.1],[0.95,0.6],[1.05,1.3],[1.2,1.55],[-2.3,-4.8],[-0.8,-3.2]]
];
const core_RVTvsGM_S02=[
[[-1.65,-1.2],[-1.55,-0.5],[-1.45,-1.5],[-1.35,-0.8],[-1.2,-1.1],[-1.15,-0.3],[-1.05,-0.9],[-0.95,-1.5],[-0.85,-0.6],[-0.7,-1.2],[-0.65,-0.1],[-0.55,-0.7],[-0.45,-1.0],[-0.35,-0.4],[-0.25,-1.6],[-0.15,-0.5],[-0.05,0.2],[0.1,-0.9],[0.15,0.0],[0.25,-0.6],[0.4,0.1],[0.5,-0.3],[0.6,0.4],[0.75,0.0],[0.8,0.6],[0.95,0.5]],
[[-2.3,-2.2],[-2.1,-1.8],[-1.95,-2.0],[-1.75,-1.6],[-1.6,-1.3],[-1.45,-1.2],[-1.35,-1.0],[-1.2,-1.4],[-1.05,-0.9],[-0.9,-1.1],[-0.85,-0.4],[-0.7,-0.5],[-0.6,-1.0],[-0.45,-0.4],[-0.35,-0.8],[-0.25,-0.1],[-0.1,-0.3],[0.1,-0.1],[0.25,0.2],[0.4,0.1],[0.55,0.4],[0.75,0.6],[0.95,0.5]],
[[-2.2,-2.5],[-1.95,-1.9],[-1.75,-1.8],[-1.55,-1.5],[-1.4,-1.3],[-1.25,-1.1],[-1.1,-0.9],[-0.95,-0.8],[-0.8,-0.5],[-0.65,-0.4],[-0.55,-0.1],[-0.4,0.1],[-0.3,-0.4],[-0.15,0.3],[0.0,-0.2],[0.15,0.4],[0.3,0.2],[0.45,0.8],[0.6,0.6],[0.8,1.1],[0.95,1.3],[1.1,1.3],[1.25,2.0],[1.4,1.7],[1.6,2.4]],
[[-2.9,-2.7],[-2.6,-2.4],[-2.45,-2.6],[-2.3,-2.4],[-2.15,-2.2],[-2.05,-2.0],[-1.9,-2.1],[-1.75,-1.7],[-1.55,-1.9],[-1.4,-1.6],[-1.25,-1.4],[-1.1,-1.2],[-0.95,-1.0],[-0.8,-0.8],[-0.65,-0.8],[-0.5,-0.5],[-0.35,-0.4],[-0.2,-0.1],[-0.05,0.0],[0.2,0.2],[0.4,0.4],[-1.2,-2.4],[-2.55,-2.0]],
[[-1.75,-2.6],[-1.6,-3.0],[-1.45,-2.3],[-1.35,-2.6],[-1.25,-1.9],[-1.15,-2.5],[-1.05,-1.7],[-0.95,-2.0],[-0.85,-1.4],[-0.75,-1.6],[-0.65,-1.0],[-0.55,-1.6],[-0.45,-0.8],[-0.35,-1.0],[-0.25,-0.3],[-0.15,-1.1],[-0.05,0.0],[0.05,-0.5],[0.15,0.4],[0.25,-0.3],[0.35,0.3],[0.45,-0.2],[0.55,0.8],[0.65,0.2],[0.9,0.7],[1.1,0.7],[1.4,1.8],[1.6,2.2]],
[[-2.05,-4.6],[-1.9,-4.1],[-1.8,-4.5],[-1.7,-3.9],[-1.6,-4.0],[-1.5,-3.6],[-1.4,-3.4],[-1.35,-4.2],[-1.25,-3.0],[-1.1,-3.7],[-1.0,-2.6],[-0.95,-3.0],[-0.85,-3.4],[-0.75,-2.2],[-0.65,-2.6],[-0.6,-3.3],[-0.5,-1.6],[-0.4,-2.1],[-0.3,-1.4],[-0.25,-3.8],[-0.2,-2.6],[-0.1,-0.9],[-0.05,-1.4],[0.0,-0.4],[0.15,-0.2],[0.3,-0.6]],
[[-1.3,-2.8],[-1.2,-2.5],[-1.1,-2.4],[-1.0,-2.6],[-0.9,-2.1],[-0.8,-2.2],[-0.7,-1.8],[-0.6,-1.5],[-0.5,-1.4],[-0.45,-1.2],[-0.35,-0.8],[-0.25,-1.0],[-0.15,-0.5],[-0.05,-0.3],[0.05,-0.2],[0.15,0.1],[0.25,0.4],[0.35,0.6],[0.45,0.7],[0.55,0.9],[0.7,1.1],[0.8,1.2],[0.95,1.5],[1.1,1.9],[1.25,2.2]],
[[-3.55,-4.4],[-3.4,-4.0],[-3.25,-3.8],[-3.05,-3.9],[-2.9,-3.4],[-2.75,-3.3],[-2.6,-3.6],[-2.45,-3.3],[-2.3,-3.1],[-2.2,-2.3],[-2.05,-2.9],[-1.9,-2.6],[-1.8,-3.1],[-1.65,-2.5],[-1.55,-2.2],[-1.45,-1.9],[-1.3,-2.0],[-1.2,-1.7],[-1.05,-2.4],[-0.95,-1.5],[-0.85,-1.4],[-0.7,-1.2],[-0.6,-1.9],[-0.45,-1.1],[-0.35,-0.7],[-0.2,-0.6],[0.0,-0.4],[0.15,-0.1],[0.3,0.4],[0.45,0.2],[0.6,0.7],[0.75,0.5],[0.9,1.2],[1.1,1.0]]
];
const pts_RVTvsGM_S03=[
[[-1.7,-2.25],[-1.6,-1.4],[-1.55,-0.9],[-1.5,0.1],[-1.45,0.8],[-1.4,-1.9],[-1.35,-0.4],[-1.3,-1.2],[-1.2,0.6],[-1.1,2.35],[-1.1,-0.8],[-1.0,-1.6],[-0.9,-0.1],[-0.8,-1.0],[-0.7,0.2],[-0.6,-0.6],[-0.5,-1.2],[-0.4,0.3],[-0.37,2.6],[-0.3,-0.3],[-0.2,0.7],[-0.15,4.5],[-0.1,2.4],[-0.05,-0.6],[0.05,0.4],[0.15,1.3],[0.25,0.0],[0.35,0.8],[0.45,1.2],[0.55,0.5],[0.65,1.5],[0.75,1.0],[0.9,1.3],[1.05,1.6],[1.2,2.15],[-0.6,-2.0],[0.2,-0.5]],
[[-1.9,-3.65],[-1.85,-3.0],[-1.8,-3.4],[-1.7,-3.5],[-1.65,-2.8],[-1.6,-3.2],[-1.55,-2.4],[-1.5,-1.8],[-1.4,-2.6],[-1.3,-1.4],[-1.25,-2.1],[-1.2,-0.2],[-1.1,-1.7],[-1.0,-2.3],[-0.9,-1.1],[-0.8,-1.8],[-0.7,-0.7],[-0.6,-1.4],[-0.5,-0.3],[-0.4,-1.0],[-0.3,0.1],[-0.2,-0.6],[-0.1,-1.3],[0.0,0.3],[0.1,-0.3],[0.15,1.4],[0.25,0.5],[0.4,0.1],[0.5,0.7],[0.65,1.0],[0.8,0.45],[0.95,1.2],[1.1,1.6],[1.25,2.1],[-1.35,-3.0],[-0.45,-2.0]],
[[-1.7,-3.1],[-1.6,-2.6],[-1.5,-3.0],[-1.4,-2.2],[-1.3,-1.5],[-1.25,-0.8],[-1.15,-2.0],[-1.05,-1.2],[-0.95,-2.6],[-0.85,-0.6],[-0.75,-1.6],[-0.7,-2.5],[-0.6,-0.9],[-0.5,-3.2],[-0.45,-0.2],[-0.35,-1.3],[-0.25,0.3],[-0.15,-0.7],[0.0,0.5],[0.1,-0.3],[0.25,0.9],[0.35,0.2],[0.5,2.4],[0.55,1.0],[0.7,0.5],[0.85,1.5],[1.0,0.9],[1.2,2.1],[1.4,1.6],[1.55,2.3],[1.7,2.5],[1.85,1.4],[2.1,2.2],[2.5,3.2],[3.4,3.0],[3.4,2.3],[-1.0,-2.9]],
[[-2.2,-2.3],[-2.05,-1.5],[-1.95,-2.8],[-1.85,-3.6],[-1.75,-0.4],[-1.65,-1.9],[-1.55,-1.2],[-1.45,-2.4],[-1.35,-0.8],[-1.25,-1.6],[-1.15,-3.05],[-1.05,-0.5],[-0.95,-1.3],[-0.85,-2.1],[-0.75,-0.2],[-0.65,-1.0],[-0.55,-1.7],[-0.45,0.2],[-0.35,-0.6],[-0.25,-1.4],[-0.15,0.4],[-0.05,-0.3],[0.05,-1.0],[0.15,0.6],[0.25,-0.1],[0.35,0.3],[0.5,-0.5],[0.6,0.6],[0.75,1.25],[0.9,0.3],[1.05,0.7],[1.2,1.0],[-0.6,-2.3]],
[[-2.15,-3.7],[-2.0,-3.3],[-1.9,-3.6],[-1.8,-2.9],[-1.7,-3.2],[-1.6,-2.2],[-1.5,-2.7],[-1.4,-1.7],[-1.3,-2.3],[-1.2,-1.2],[-1.1,-2.0],[-1.0,-0.8],[-0.9,-1.5],[-0.8,-0.3],[-0.7,-1.1],[-0.6,-0.6],[-0.5,1.55],[-0.45,-0.1],[-0.35,-0.9],[-0.25,0.3],[-0.15,-0.4],[-0.05,1.7],[0.0,2.25],[0.05,0.4],[0.15,-0.2],[0.25,0.7],[0.35,0.2],[0.45,0.9],[0.55,0.5],[0.7,2.15],[0.75,0.55],[0.8,1.2],[-1.35,-3.4],[-0.2,-1.5]],
[[-2.05,-4.0],[-1.9,-4.6],[-1.8,-3.8],[-1.7,-4.3],[-1.6,-3.1],[-1.5,-4.0],[-1.45,-2.4],[-1.35,-3.5],[-1.25,-4.6],[-1.2,-1.9],[-1.1,-2.9],[-1.0,-3.9],[-0.95,-1.3],[-0.85,-2.4],[-0.75,-3.3],[-0.7,-0.7],[-0.65,-0.1],[-0.6,-1.8],[-0.5,-2.7],[-0.45,-4.5],[-0.4,0.7],[-0.35,-1.1],[-0.25,-2.0],[-0.2,0.2],[-0.1,-0.7],[-0.05,-2.8],[0.0,0.9],[0.1,1.5],[0.15,-0.3],[0.2,1.35],[0.3,0.5],[2.0,3.0],[2.05,3.55],[3.25,3.5],[-1.3,-2.0],[-0.8,-4.8]],
[[-2.65,-2.4],[-2.05,-3.0],[-2.0,-3.3],[-1.85,-2.5],[-1.7,-2.9],[-1.6,-1.9],[-1.5,-1.3],[-1.45,-2.4],[-1.35,-1.6],[-1.25,-2.1],[-1.15,-0.9],[-1.05,-1.7],[-0.95,-1.2],[-0.85,-2.3],[-0.75,-0.6],[-0.65,-1.4],[-0.55,-0.2],[-0.45,-0.9],[-0.35,-1.6],[-0.25,0.1],[-0.2,-2.0],[-0.1,-0.4],[0.0,0.5],[0.1,-0.1],[0.2,0.9],[0.3,0.3],[0.45,2.15],[0.5,1.0],[0.55,1.9],[0.65,0.6],[0.8,1.4],[0.95,1.0],[1.1,1.8],[1.2,2.75],[1.35,2.3],[-1.9,-1.5]],
[[-3.4,-1.65],[-3.3,-0.9],[-3.15,-1.3],[-3.0,-0.6],[-2.85,-1.1],[-2.7,-0.4],[-2.55,-0.9],[-2.4,-1.7],[-2.25,-0.3],[-2.1,-0.8],[-1.95,0.0],[-1.85,1.75],[-1.8,-0.5],[-1.65,-1.2],[-1.5,0.1],[-1.35,-0.4],[-1.2,-0.9],[-1.05,0.3],[-0.9,-0.2],[-0.75,0.6],[-0.6,-0.1],[-0.5,1.0],[-0.4,3.1],[-0.3,2.6],[-0.25,0.4],[-0.1,1.3],[0.0,0.2],[0.15,4.25],[0.2,1.1],[0.3,0.6],[0.4,2.3],[0.5,1.5],[0.6,0.9],[0.75,1.9],[0.85,1.2],[0.95,0.05],[1.05,2.7],[-2.0,-1.4],[-0.7,-0.8]]
];
const core_RVTvsGM_S03=[
[[-1.65,-1.7],[-1.6,-0.6],[-1.5,-1.3],[-1.45,-0.4],[-1.35,-1.6],[-1.25,-0.9],[-1.15,-1.4],[-1.05,-0.3],[-0.95,-1.0],[-0.85,-0.4],[-0.75,-1.3],[-0.65,-0.2],[-0.55,-0.9],[-0.45,-0.1],[-0.35,-0.6],[-0.25,0.3],[-0.15,-0.2],[-0.05,0.5],[0.0,-0.3],[0.1,0.2],[0.2,0.8],[0.3,0.4],[0.4,1.0],[0.5,0.7],[0.6,1.1],[0.7,0.6],[0.85,1.5],[1.0,1.1]],
[[-1.75,-3.0],[-1.65,-2.4],[-1.55,-2.8],[-1.45,-2.1],[-1.4,-2.4],[-1.3,-1.9],[-1.2,-1.6],[-1.15,-2.2],[-1.05,-1.4],[-0.95,-1.9],[-0.85,-1.4],[-0.75,-1.2],[-0.65,-1.6],[-0.55,-0.9],[-0.45,-0.6],[-0.35,-1.2],[-0.25,-0.4],[-0.15,-0.9],[-0.05,0.0],[0.05,-0.5],[0.2,0.2],[0.3,-0.1],[0.45,0.4],[0.6,0.5],[0.75,0.7],[0.9,0.9],[1.05,1.2]],
[[-1.65,-2.8],[-1.55,-2.2],[-1.45,-2.5],[-1.35,-1.8],[-1.25,-2.3],[-1.15,-1.5],[-1.05,-1.9],[-0.95,-1.0],[-0.85,-1.5],[-0.8,-2.1],[-0.7,-1.2],[-0.6,-1.7],[-0.5,-0.7],[-0.4,-1.0],[-0.3,-0.4],[-0.2,-1.1],[-0.1,0.0],[0.0,-0.5],[0.15,0.4],[0.3,0.5],[0.45,0.6],[0.65,1.1],[0.8,0.8],[1.0,1.4],[1.3,1.4],[1.6,1.9]],
[[-2.15,-1.9],[-2.0,-2.4],[-1.9,-1.6],[-1.8,-2.3],[-1.7,-1.4],[-1.6,-2.0],[-1.5,-1.6],[-1.4,-1.1],[-1.3,-2.0],[-1.2,-1.3],[-1.1,-0.9],[-1.0,-1.7],[-0.9,-1.0],[-0.8,-0.6],[-0.7,-1.4],[-0.6,-0.3],[-0.5,-1.0],[-0.4,-0.7],[-0.3,0.0],[-0.2,-0.9],[-0.1,0.1],[0.0,-0.6],[0.1,0.0],[0.2,0.4],[0.3,-0.3],[0.45,0.5],[0.7,0.4],[0.85,0.9]],
[[-2.05,-3.6],[-1.95,-2.9],[-1.85,-3.4],[-1.75,-2.6],[-1.65,-2.7],[-1.55,-2.5],[-1.45,-2.1],[-1.35,-2.4],[-1.25,-1.7],[-1.15,-1.6],[-1.05,-1.9],[-0.95,-1.1],[-0.85,-1.2],[-0.75,-0.8],[-0.65,-1.3],[-0.55,-0.3],[-0.45,-0.6],[-0.35,0.0],[-0.25,-0.4],[-0.15,0.3],[-0.05,-0.1],[0.05,0.7],[0.15,0.2],[0.3,0.5],[0.4,0.5],[0.55,0.9],[0.65,0.7]],
[[-1.95,-4.3],[-1.85,-4.1],[-1.75,-3.5],[-1.65,-3.8],[-1.55,-3.6],[-1.45,-3.1],[-1.4,-4.3],[-1.3,-2.8],[-1.2,-3.3],[-1.15,-2.5],[-1.05,-3.1],[-0.95,-2.3],[-0.9,-3.5],[-0.8,-1.9],[-0.7,-2.2],[-0.65,-2.9],[-0.55,-1.4],[-0.5,-0.8],[-0.45,-2.2],[-0.35,-0.5],[-0.3,-1.5],[-0.2,-0.9],[-0.15,0.6],[-0.1,-0.1],[0.0,-0.4],[0.1,0.4],[0.2,0.8],[0.25,-0.2]],
[[-1.95,-2.6],[-1.8,-2.2],[-1.7,-2.3],[-1.6,-2.4],[-1.5,-2.0],[-1.4,-1.8],[-1.3,-2.0],[-1.2,-1.4],[-1.1,-1.5],[-1.0,-1.4],[-0.9,-1.1],[-0.8,-1.1],[-0.7,-0.9],[-0.6,-0.8],[-0.5,-0.6],[-0.4,-0.4],[-0.3,-0.5],[-0.2,-0.1],[-0.05,-0.1],[0.05,0.2],[0.15,0.3],[0.25,0.6],[0.4,0.6],[0.6,1.1],[0.75,0.9],[0.9,1.6],[1.05,1.5],[1.25,2.2]],
[[-3.3,-1.2],[-3.2,-0.7],[-3.05,-1.0],[-2.9,-0.8],[-2.75,-1.2],[-2.6,-0.5],[-2.45,-0.4],[-2.35,-0.9],[-2.2,-0.6],[-2.05,-0.3],[-1.9,-0.7],[-1.75,-0.1],[-1.6,-0.4],[-1.45,-0.6],[-1.3,0.0],[-1.15,-0.3],[-1.0,0.2],[-0.85,-0.1],[-0.7,0.3],[-0.55,0.0],[-0.45,0.5],[-0.35,0.2],[-0.2,0.8],[-0.05,0.5],[0.1,0.9],[0.25,1.4],[0.35,0.8],[0.55,1.2],[0.7,1.0],[0.9,1.6],[1.05,1.4]]
];

// ---------------- STYLE / LAYOUT ----------------
const C_RVT="#0E5B55", C_GM="#0B1990", C_PET="#A06BF6", C_BLACK="#000000";
const colX=[103.3,661.7,1219.7];
const panelW=428.6, panelH=199.1, rowTop0=217.3, rowPitch=217.9;
const stripTop=158.3, stripH=59;
const rightStripW=60;
const annoY_r=[4.52,2.6], annoY_b=[-2.6,-4.52];

const merge=(a,b)=>a.map((s,i)=>s.concat(b[i]));
const columns=[
 {pts:[merge(pts_RVTvsPET_S02,core_RVTvsPET_S02),merge(pts_RVTvsPET_S03,core_RVTvsPET_S03)], r:[r_RVTvsPET_S02,r_RVTvsPET_S03], b:[b_RVTvsPET_S02,b_RVTvsPET_S03],
  strip:[["RVT",C_RVT],["  vs. ",C_BLACK,0,30],["P",C_PET],["ET",C_PET,1],["CO",C_PET],["2",C_PET,1]],
  xt:[["P",C_PET],["ET",C_PET,1],["CO",C_PET],["2",C_PET,1],[" Delay",C_PET]], xc:C_PET,
  yt:"RVT Delay (seconds)", yc:C_RVT},
 {pts:[merge(pts_GMvsPET_S02,core_GMvsPET_S02),merge(pts_GMvsPET_S03,core_GMvsPET_S03)], r:[r_GMvsPET_S02,r_GMvsPET_S03], b:[b_GMvsPET_S02,b_GMvsPET_S03],
  strip:[["GM-BOLD",C_GM],[" vs. ",C_BLACK,0,30],["P",C_PET],["ET",C_PET,1],["CO",C_PET],["2",C_PET,1]],
  xt:[["P",C_PET],["ET",C_PET,1],["CO",C_PET],["2",C_PET,1],[" Delay",C_PET]], xc:C_PET,
  yt:"GM-BOLD Delay (seconds)", yc:C_GM},
 {pts:[merge(pts_RVTvsGM_S02,core_RVTvsGM_S02),merge(pts_RVTvsGM_S03,core_RVTvsGM_S03)], r:[r_RVTvsGM_S02,r_RVTvsGM_S03], b:[b_RVTvsGM_S02,b_RVTvsGM_S03],
  strip:[["RVT",C_RVT],[" vs. ",C_BLACK,0,30],["GM-BOLD",C_GM]],
  xt:[["GM-BOLD Delay",C_GM]], xc:C_GM,
  yt:"RVT Delay (seconds)", yc:C_RVT}
];

const svg=d3.select("#c");

function rich(textSel,parts,size){
  let sub=false; const sh=size*0.3;
  parts.forEach(p=>{
    const ts=textSel.append("tspan").text(p[0]).attr("fill",p[1]);
    const isSub=!!p[2];
    if(p[3]) ts.attr("font-size",p[3]);
    if(isSub){ts.attr("font-size",size*0.7); if(!sub) ts.attr("dy",sh);}
    else if(sub){ts.attr("dy",-sh);}
    sub=isSub;
  });
}

// Title
const title=svg.append("text").attr("x",0).attr("y",36).attr("font-size",39).attr("font-weight","bold");
rich(title,[["Sufficient P",C_BLACK],["ET",C_BLACK,1],["CO",C_BLACK],["2",C_BLACK,1],[": inter-reference spatial correlations between CVR delay maps",C_BLACK]],39);
{const bb=title.node().getBBox(); const sx=1712/bb.width; title.attr("transform",`translate(${3-bb.x*sx},0) scale(${sx},1)`);}

// Legend
const legendX=[515,896], legendTX=[641,1021];
sessions.forEach((s,i)=>{
  svg.append("rect").attr("x",legendX[i]).attr("y",93.5).attr("width",115).attr("height",13).attr("fill",sessionColors[i]);
  svg.append("text").attr("x",legendTX[i]).attr("y",112).attr("font-size",36).attr("fill","#000").text(s);
});

const x=d3.scaleLinear().domain(axisDomain).range([0,panelW]);
const y=d3.scaleLinear().domain(axisDomain).range([panelH,0]);
const fmt=d=>d<0?"-"+Math.abs(d):String(d);

svg.append("defs").append("clipPath").attr("id","pclip").append("rect").attr("width",panelW).attr("height",panelH);

function fitLine(P,b){
  const n=P.length, mx=d3.mean(P,p=>p[0]), my=d3.mean(P,p=>p[1]);
  const a=my-b*mx;
  const s=Math.sqrt(d3.sum(P,p=>(p[1]-a-b*p[0])**2)/(n-2));
  const sxx=d3.sum(P,p=>(p[0]-mx)**2);
  const [x0,x1]=d3.extent(P,p=>p[0]);
  const xs=d3.range(0,41).map(k=>x0+(x1-x0)*k/40);
  return {line:[[x0,a+b*x0],[x1,a+b*x1]],
    band:xs.map(v=>{const se=1.98*s*Math.sqrt(1/n+(v-mx)**2/sxx); const f=a+b*v; return [v,f-se,f+se];})};
}

columns.forEach((col,ci)=>{
  const X0=colX[ci];
  svg.append("rect").attr("x",X0).attr("y",stripTop).attr("width",panelW).attr("height",stripH).attr("fill","#D9D9D9");
  const st=svg.append("text").attr("x",X0+panelW/2).attr("y",200).attr("font-size",33).attr("text-anchor","middle");
  rich(st,col.strip,33);

  subjects.forEach((sub,ri)=>{
    const Y0=rowTop0+ri*rowPitch;
    const g=svg.append("g").attr("transform",`translate(${X0},${Y0})`);
    g.append("rect").attr("width",panelW).attr("height",panelH).attr("fill","#EBEBEB");
    minorValues.forEach(v=>{
      g.append("line").attr("x1",x(v)).attr("x2",x(v)).attr("y1",0).attr("y2",panelH).attr("stroke","#fff").attr("stroke-width",1.3);
      g.append("line").attr("y1",y(v)).attr("y2",y(v)).attr("x1",0).attr("x2",panelW).attr("stroke","#fff").attr("stroke-width",1.3);
    });
    tickValues.forEach(v=>{
      g.append("line").attr("x1",x(v)).attr("x2",x(v)).attr("y1",0).attr("y2",panelH).attr("stroke","#fff").attr("stroke-width",2.6);
      g.append("line").attr("y1",y(v)).attr("y2",y(v)).attr("x1",0).attr("x2",panelW).attr("stroke","#fff").attr("stroke-width",2.6);
    });
    const pg=g.append("g").attr("clip-path","url(#pclip)");
    pg.append("line").attr("x1",x(-5.5)).attr("y1",y(-5.5)).attr("x2",x(5.5)).attr("y2",y(5.5)).attr("stroke","#BEBEBE").attr("stroke-width",2.4);
    [0,1].forEach(si=>{
      pg.append("g").selectAll("circle").data(col.pts[si][ri]).join("circle")
        .attr("cx",d=>x(d[0])).attr("cy",d=>y(d[1])).attr("r",4.7)
        .attr("fill","none").attr("stroke",sessionColors[si]).attr("stroke-width",2);
    });
    [0,1].forEach(si=>{
      const f=fitLine(col.pts[si][ri],col.b[si][ri]);
      pg.append("path").datum(f.band).attr("fill","#999999").attr("fill-opacity",0.4)
        .attr("d",d3.area().x(d=>x(d[0])).y0(d=>y(d[1])).y1(d=>y(d[2])));
      pg.append("path").datum(f.line).attr("fill","none").attr("stroke",sessionColors[si]).attr("stroke-width",3)
        .attr("d",d3.line().x(d=>x(d[0])).y(d=>y(d[1])));
    });
    [0,1].forEach(si=>{
      g.append("text").attr("x",x(-5)).attr("y",y(annoY_r[si])).attr("dy","0.36em").attr("font-size",30)
        .attr("fill",sessionColors[si]).text("r = "+col.r[si][ri]);
      g.append("text").attr("x",x(5)).attr("y",y(annoY_b[si])).attr("dy","0.36em").attr("font-size",30)
        .attr("text-anchor","end").attr("fill",sessionColors[si]).text("\u03B2 = "+col.b[si][ri]);
    });
    const ya=g.append("g").call(d3.axisLeft(y).tickValues(tickValues).tickFormat(fmt).tickSize(9).tickPadding(6));
    ya.select(".domain").remove();
    ya.selectAll("line").attr("stroke","#333333").attr("stroke-width",2.6);
    ya.selectAll("text").attr("font-size",30).attr("fill","#4D4D4D").attr("font-family",null);
    if(ri===subjects.length-1){
      const xa=g.append("g").attr("transform",`translate(0,${panelH})`).call(d3.axisBottom(x).tickValues(tickValues).tickFormat(fmt).tickSize(9).tickPadding(6));
      xa.select(".domain").remove();
      xa.selectAll("line").attr("stroke","#333333").attr("stroke-width",2.6);
      xa.selectAll("text").attr("font-size",30).attr("fill","#4D4D4D").attr("font-family",null);
    }
    if(ci===2){
      svg.append("rect").attr("x",X0+panelW).attr("y",Y0).attr("width",rightStripW).attr("height",panelH).attr("fill","#D9D9D9");
      svg.append("text").attr("transform",`translate(${X0+panelW+19},${Y0+panelH/2}) rotate(90)`)
        .attr("text-anchor","middle").attr("font-size",31).attr("fill","#1A1A1A").text(sub);
    }
  });
  const cx=X0+panelW/2;
  const xt=svg.append("text").attr("x",cx).attr("y",2025).attr("font-size",37).attr("text-anchor","middle");
  rich(xt,col.xt,37);
  svg.append("text").attr("x",cx).attr("y",2090).attr("font-size",37).attr("text-anchor","middle").attr("fill",col.xc).text("(seconds)");
  const yMid=rowTop0+(subjects.length-1)*rowPitch/2+panelH/2;
  svg.append("text").attr("transform",`translate(${X0-66},${yMid}) rotate(-90)`).attr("text-anchor","middle")
    .attr("font-size",37).attr("fill",col.yc).text(col.yt);
});
</script>
</body></html>
